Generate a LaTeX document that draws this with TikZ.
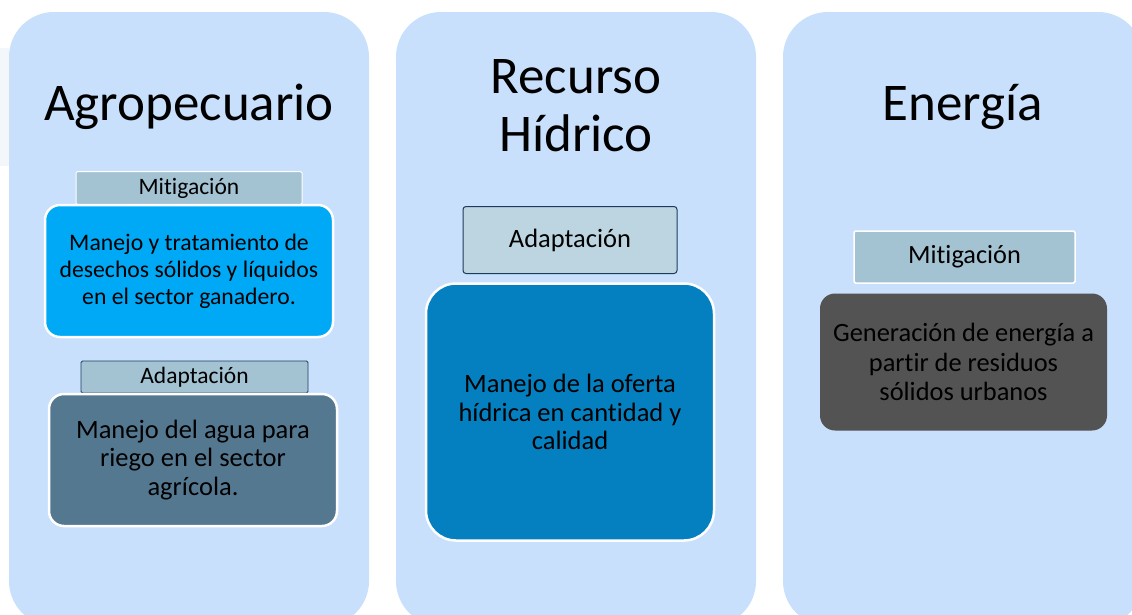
\documentclass[tikz,border=0pt]{standalone}
\usepackage{fontspec}
\setmainfont{Carlito}[Ligatures=NoCommon]
\definecolor{panelbg}{HTML}{C8E0FC}
\definecolor{labelbg}{HTML}{A3C2D2}
\definecolor{labelbgb}{HTML}{BDD5E0}
\definecolor{navyline}{HTML}{1F3A5F}
\definecolor{cyanbox}{HTML}{00A9F6}
\definecolor{slatebox}{HTML}{557891}
\definecolor{bluebox}{HTML}{047FBF}
\definecolor{greybox}{HTML}{535353}
\definecolor{faintbg}{HTML}{F3F7FB}
\tikzset{
  panel/.style={rectangle, rounded corners=45pt, fill=panelbg, draw=none, minimum width=360pt, minimum height=614pt, inner sep=0pt},
  titletext/.style={font=\fontsize{53}{58}\selectfont, align=center, inner sep=0pt, text=black},
  labelbox/.style={rectangle, rounded corners=1.5pt, fill=labelbg, draw=white, line width=1pt, inner sep=0pt, font=\fontsize{23.5}{27}\selectfont},
  itembox/.style={rectangle, draw=white, line width=2.5pt, inner sep=0pt, align=center, text=black},
}
\begin{document}
\begin{tikzpicture}[x=1pt,y=-1pt]
\useasboundingbox (0,0) rectangle (1132,614);
\fill[white] (0,0) rectangle (1132,614);
\fill[faintbg] (0,48) rectangle (9,166);
% panels
\node[panel] (pA) at (189,319) {};
\node[panel] (pB) at (576,319) {};
\node[panel] (pC) at (963,319) {};
% titles
\node[titletext, anchor=base] (tA) at (189,120) {Agropecuario};
\node[titletext, anchor=base] (tB1) at (576,93) {Recurso};
\node[titletext, anchor=base] (tB2) at (576,151) {Hídrico};
\node[titletext, anchor=base] (tC) at (963,120) {Energía};
% left column
\node[labelbox, minimum width=226pt, minimum height=33pt] (lA1) at (189,188) {Mitigación};
\node[itembox, fill=cyanbox, rounded corners=15pt, minimum width=288pt, minimum height=132pt, font=\fontsize{23.7}{27}\selectfont] (bA1) at (189,271) {Manejo y tratamiento de\\desechos sólidos y líquidos\\en el sector ganadero.};
\node[labelbox, draw=navyline, line width=0.8pt, minimum width=227pt, minimum height=32pt] (lA2) at (194.5,377) {Adaptación};
\node[itembox, fill=slatebox, rounded corners=15pt, minimum width=288pt, minimum height=132pt, font=\fontsize{26.5}{28.5}\selectfont] (bA2) at (193,460) {Manejo del agua para\\riego en el sector\\agrícola.};
% middle column
\node[labelbox, fill=labelbgb, draw=navyline, line width=1pt, rounded corners=3pt, minimum width=214pt, minimum height=67pt, font=\fontsize{26.5}{28.5}\selectfont] (lB1) at (570,240) {Adaptación};
\node[itembox, fill=bluebox, rounded corners=30pt, minimum width=288pt, minimum height=257pt, font=\fontsize{26.5}{28.5}\selectfont] (bB1) at (570,412) {Manejo de la oferta\\hídrica en cantidad y\\calidad};
% right column
\node[labelbox, minimum width=221pt, minimum height=52pt, line width=1.5pt, font=\fontsize{26.3}{28.5}\selectfont] (lC1) at (964.5,257) {Mitigación};
\node[itembox, draw=none, fill=greybox, rounded corners=15pt, minimum width=287pt, minimum height=137pt, font=\fontsize{26.4}{29.5}\selectfont] (bC1) at (963.5,362) {Generación de energía a\\partir de residuos\\sólidos urbanos};
\end{tikzpicture}
\end{document}
